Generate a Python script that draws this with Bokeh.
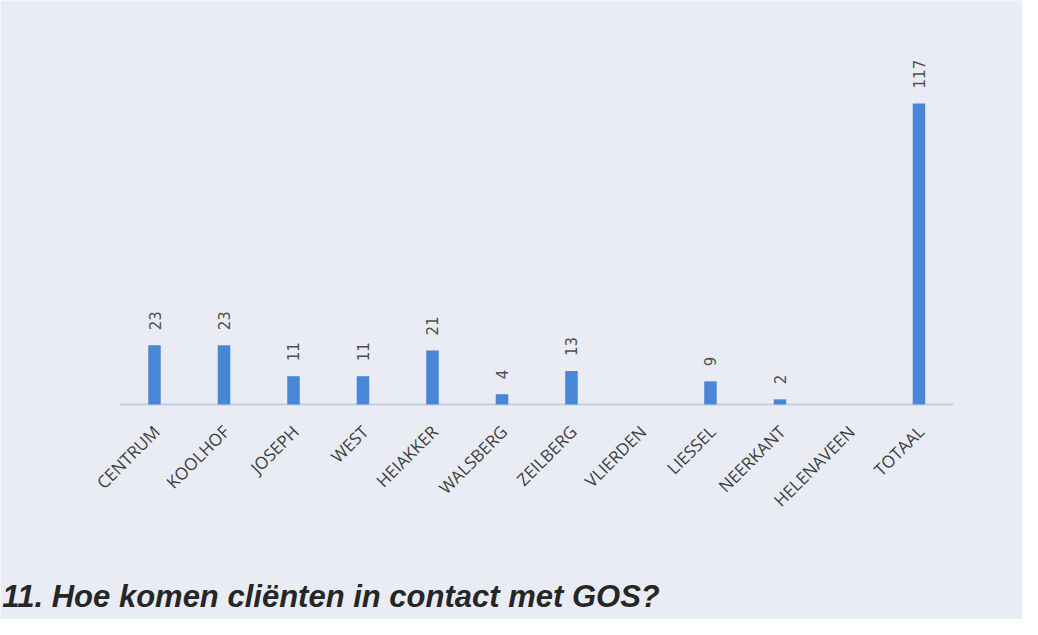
from math import pi
from bokeh.plotting import figure
from bokeh.models import ColumnDataSource, Range1d, Label
from bokeh.core.properties import value
from bokeh.embed import file_html
from bokeh.resources import INLINE

# ---- data ----
categories = ["CENTRUM", "KOOLHOF", "JOSEPH", "WEST", "HEIAKKER", "WALSBERG",
              "ZEILBERG", "VLIERDEN", "LIESSEL", "NEERKANT", "HELENAVEEN", "TOTAAL"]
counts = [23, 23, 11, 11, 21, 4, 13, None, 9, 2, None, 117]
caption = "11. Hoe komen cliënten in contact met GOS?"

# ---- styling ----
bg = "#e9ecf4"
bar_color = "#4a86d6"

pos = list(range(len(categories)))
bx = [i for i, v in zip(pos, counts) if v is not None]
bv = [v for v in counts if v is not None]
bars = ColumnDataSource(dict(x=bx, val=bv, label=[str(v) for v in bv]))
cats = ColumnDataSource(dict(x=pos, y=[0] * len(pos), name=categories))

# the plotting frame covers the whole canvas; ranges chosen so that the
# category axis sits where it does in the reference
p = figure(x_range=Range1d(-2.216, 12.49), y_range=Range1d(-83.56, 157.0),
           width=1022, height=619, output_backend="svg", toolbar_location=None,
           x_axis_location=None, y_axis_location=None, min_border=0,
           background_fill_color=bg, border_fill_color=bg,
           outline_line_color=None)
p.xgrid.visible = False
p.ygrid.visible = False

# axis line
p.segment(x0=[pos[0] - 0.5], y0=[0], x1=[pos[-1] + 0.5], y1=[0],
          line_color="#c3cee2", line_width=2)

p.vbar(x="x", top="val", width=0.18, source=bars,
       fill_color=bar_color, line_color=None)

p.text(x="x", y="val", text="label", source=bars, angle=pi / 2,
       text_align="left", text_baseline="middle", y_offset=-15,
       text_font=value("DejaVu Sans"), text_font_size="15px",
       text_color="#505050")

# category labels (rotated 45 degrees)
p.text(x="x", y="y", text="name", source=cats, angle=pi / 4,
       text_align="right", text_baseline="middle", x_offset=2, y_offset=24,
       text_font=value("Open Sans"), text_font_size="17px",
       text_color="#3c3c3c")

p.add_layout(Label(x=-2.19, y=-74.8, text=caption,
                   text_font="Liberation Sans", text_font_style="bold italic",
                   text_font_size="31px", text_color="#262626",
                   text_baseline="alphabetic"))

open("out.html", "w").write(file_html(p, INLINE))
